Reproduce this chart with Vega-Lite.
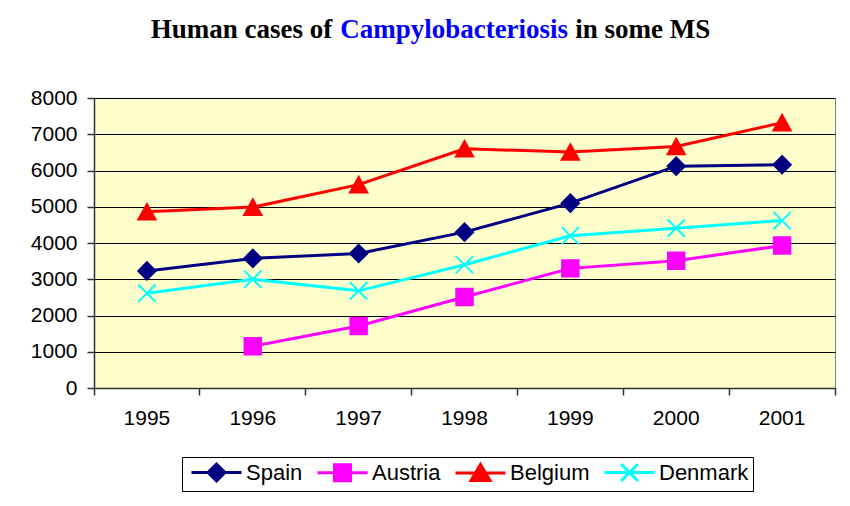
{
  "$schema": "https://vega.github.io/schema/vega-lite/v6.json",
  "width": 741,
  "height": 290,
  "autosize": {"type": "none"},
  "padding": {"left": 94, "top": 98, "right": 15, "bottom": 118},
  "background": "white",
  "title": {
    "text": "Human cases of\u00a0\u00a0\u00a0\u00a0\u00a0\u00a0\u00a0\u00a0\u00a0\u00a0\u00a0\u00a0\u00a0\u00a0\u00a0\u00a0\u00a0\u00a0\u00a0\u00a0\u00a0\u00a0\u00a0\u00a0\u00a0\u00a0\u00a0\u00a0\u00a0\u00a0\u00a0\u00a0\u00a0\u00a0\u00a0\u00a0in some MS",
    "subtitle": "\u200b\u00a0\u00a0\u00a0\u00a0\u00a0\u00a0\u00a0Campylobacteriosis",
    "anchor": "middle",
    "frame": "group",
    "dx": -34,
    "offset": 43,
    "font": "Liberation Serif",
    "fontSize": 27,
    "fontWeight": "bold",
    "color": "black",
    "lineHeight": 27,
    "subtitleFont": "Liberation Serif",
    "subtitleFontSize": 27,
    "subtitleFontWeight": "bold",
    "subtitleColor": "#0000FF",
    "subtitleLineHeight": 27,
    "subtitlePadding": -27
  },
  "config": {
    "view": {"fill": "#FFFFCC", "stroke": "#808080", "strokeWidth": 1},
    "axis": {
      "labelFont": "Liberation Sans",
      "labelFontSize": 21,
      "labelColor": "black",
      "domainColor": "#333333",
      "tickColor": "#333333",
      "domainWidth": 1.5,
      "tickWidth": 1.5
    },
    "legend": {
      "labelFont": "Liberation Sans",
      "labelFontSize": 22,
      "labelColor": "black"
    }
  },
  "data": {
    "values": [
      {"country": "Spain", "year": "1995", "cases": 3230},
      {"country": "Spain", "year": "1996", "cases": 3575},
      {"country": "Spain", "year": "1997", "cases": 3710},
      {"country": "Spain", "year": "1998", "cases": 4300},
      {"country": "Spain", "year": "1999", "cases": 5100},
      {"country": "Spain", "year": "2000", "cases": 6120},
      {"country": "Spain", "year": "2001", "cases": 6160},
      {"country": "Austria", "year": "1996", "cases": 1150},
      {"country": "Austria", "year": "1997", "cases": 1710},
      {"country": "Austria", "year": "1998", "cases": 2510},
      {"country": "Austria", "year": "1999", "cases": 3300},
      {"country": "Austria", "year": "2000", "cases": 3510},
      {"country": "Austria", "year": "2001", "cases": 3930},
      {"country": "Belgium", "year": "1995", "cases": 4860},
      {"country": "Belgium", "year": "1996", "cases": 4990},
      {"country": "Belgium", "year": "1997", "cases": 5610},
      {"country": "Belgium", "year": "1998", "cases": 6600},
      {"country": "Belgium", "year": "1999", "cases": 6510},
      {"country": "Belgium", "year": "2000", "cases": 6660},
      {"country": "Belgium", "year": "2001", "cases": 7320},
      {"country": "Denmark", "year": "1995", "cases": 2615},
      {"country": "Denmark", "year": "1996", "cases": 3000},
      {"country": "Denmark", "year": "1997", "cases": 2680},
      {"country": "Denmark", "year": "1998", "cases": 3400},
      {"country": "Denmark", "year": "1999", "cases": 4200},
      {"country": "Denmark", "year": "2000", "cases": 4410},
      {"country": "Denmark", "year": "2001", "cases": 4620}
    ]
  },
  "encoding": {
    "x": {
      "field": "year",
      "type": "ordinal",
      "bandPosition": 0.5,
      "scale": {"type": "band", "paddingInner": 0, "paddingOuter": 0},
      "axis": {
        "title": null,
        "labelAngle": 0,
        "bandPosition": 1,
        "tickExtra": true,
        "labelOffset": 0,
        "tickSize": 7,
        "labelPadding": 12,
        "grid": false
      }
    },
    "y": {
      "field": "cases",
      "type": "quantitative",
      "scale": {"domain": [0, 8000]},
      "axis": {
        "title": null,
        "format": "d",
        "values": [0, 1000, 2000, 3000, 4000, 5000, 6000, 7000, 8000],
        "grid": true,
        "gridColor": "black",
        "gridWidth": 1,
        "gridOpacity": 1,
        "tickSize": 7,
        "labelPadding": 10
      }
    }
  },
  "layer": [
    {
      "mark": {"type": "line", "strokeWidth": 3},
      "encoding": {
        "color": {
          "field": "country",
          "type": "nominal",
          "scale": {"domain": ["Spain", "Austria", "Belgium", "Denmark"], "range": ["#000080", "#FF00FF", "#FF0000", "#00FFFF"]},
          "legend": null
        }
      }
    },
    {
      "mark": {"type": "point", "filled": true, "strokeWidth": 2, "opacity": 1},
      "encoding": {
        "fill": {
          "field": "country",
          "type": "nominal",
          "scale": {"domain": ["Spain", "Austria", "Belgium", "Denmark"], "range": ["#000080", "#FF00FF", "#FF0000", "#00FFFF"]},
          "legend": null
        },
        "stroke": {
          "field": "country",
          "type": "nominal",
          "scale": {"domain": ["Spain", "Austria", "Belgium", "Denmark"], "range": ["#000080", "#FF00FF", "#FF0000", "#00FFFF"]},
          "legend": null
        },
        "shape": {
          "field": "country",
          "type": "nominal",
          "scale": {"domain": ["Spain", "Austria", "Belgium", "Denmark"], "range": ["M0,-1L1,0L0,1L-1,0Z", "M-0.95,-0.95H0.95V0.95H-0.95Z", "M0,-0.9L1,0.9L-1,0.9Z", "M-1,-1L1,1M-1,1L1,-1"]},
          "legend": null
        },
        "size": {"value": 300}
      }
    },
    {
      "mark": {"type": "point", "filled": true, "opacity": 0},
      "encoding": {
        "fill": {
          "field": "country",
          "type": "nominal",
          "scale": {"domain": ["Spain", "Austria", "Belgium", "Denmark"], "range": ["#000080", "#FF00FF", "#FF0000", "#00FFFF"]},
          "legend": {
            "orient": "none",
            "legendX": 88,
            "legendY": 359,
            "direction": "horizontal",
            "title": null,
            "strokeColor": "black",
            "fillColor": "white",
            "padding": 4,
            "symbolSize": 400,
            "symbolStrokeWidth": 3,
            "symbolOpacity": 1,
            "labelOffset": 37,
            "columnPadding": 8,
            "encode": {
              "symbols": {
                "update": {
                  "fill": {"signal": "datum.value === 'Spain' ? '#000080' : datum.value === 'Austria' ? '#FF00FF' : datum.value === 'Belgium' ? '#FF0000' : '#00FFFF'"},
                  "stroke": {"signal": "datum.value === 'Spain' ? '#000080' : datum.value === 'Austria' ? '#FF00FF' : datum.value === 'Belgium' ? '#FF0000' : '#00FFFF'"},
                  "fillOpacity": {"value": 1},
                  "strokeOpacity": {"value": 1},
                  "opacity": {"value": 1}
                }
              }
            }
          }
        },
        "stroke": {
          "field": "country",
          "type": "nominal",
          "scale": {"domain": ["Spain", "Austria", "Belgium", "Denmark"], "range": ["#000080", "#FF00FF", "#FF0000", "#00FFFF"]}
        },
        "shape": {
          "field": "country",
          "type": "nominal",
          "scale": {"domain": ["Spain", "Austria", "Belgium", "Denmark"], "range": [
            "M-0.6,0L4.4,0M1.9,-0.85L2.75,0L1.9,0.85L1.05,0Z",
            "M-0.6,0L4.4,0M1.1,-0.8H2.7V0.8H1.1Z",
            "M-0.6,0L4.4,0M1.9,-0.85L2.85,0.75L0.95,0.75Z",
            "M-0.6,0L4.4,0M1.05,-0.85L2.75,0.85M1.05,0.85L2.75,-0.85"
          ]}
        }
      }
    }
  ],
  "resolve": {"scale": {"shape": "independent", "fill": "independent", "stroke": "independent"}}
}
